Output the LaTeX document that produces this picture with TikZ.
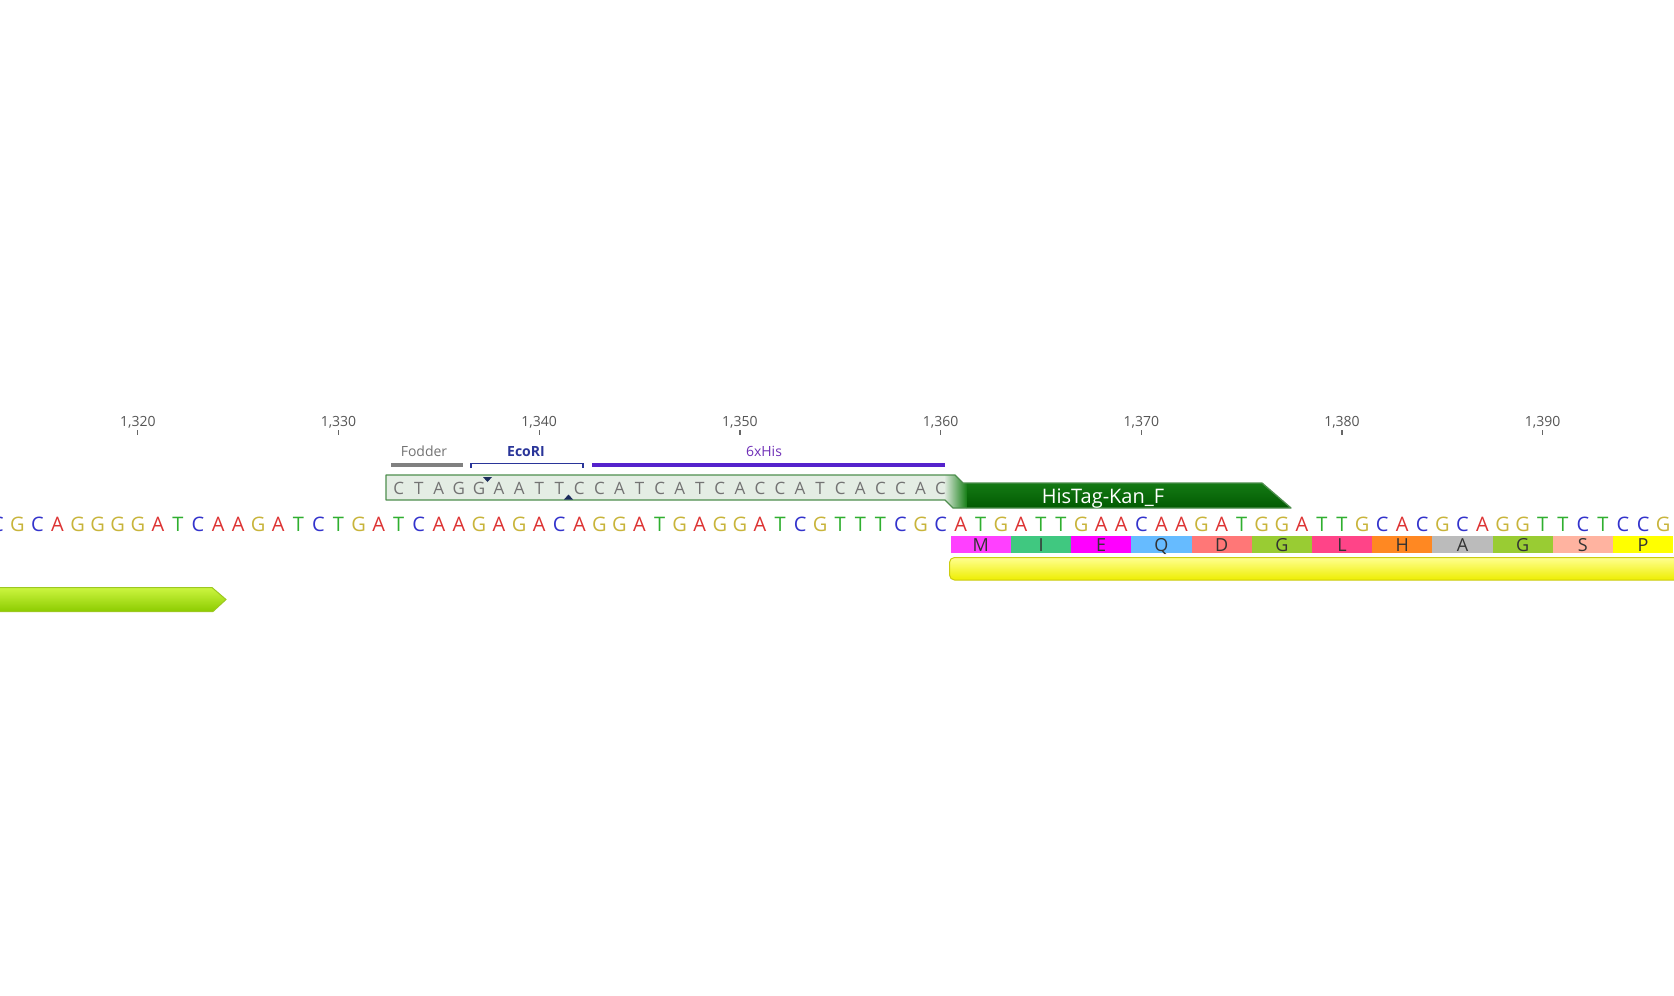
\documentclass[tikz,border=0pt]{standalone}
\usepackage{fontspec}
\setmainfont{Open Sans}
\definecolor{nucA}{HTML}{DD3333}
\definecolor{nucC}{HTML}{3333CC}
\definecolor{nucG}{HTML}{C8B43A}
\definecolor{nucT}{HTML}{2FAF2F}
\definecolor{aaM}{HTML}{FF40FF}
\definecolor{aaI}{HTML}{40C880}
\definecolor{aaE}{HTML}{FF00FF}
\definecolor{aaQ}{HTML}{66BBFF}
\definecolor{aaD}{HTML}{FF7777}
\definecolor{aaG}{HTML}{99CC33}
\definecolor{aaL}{HTML}{FF4488}
\definecolor{aaH}{HTML}{FF8822}
\definecolor{aaA}{HTML}{BBBBBB}
\definecolor{aaS}{HTML}{FFB3A0}
\definecolor{aaP}{HTML}{FFFF00}
\definecolor{ticktext}{HTML}{555555}
\definecolor{fodder}{HTML}{808080}
\definecolor{ecori}{HTML}{2A3599}
\definecolor{hisbar}{HTML}{5522CC}
\definecolor{histext}{HTML}{7030B8}
\definecolor{cutmark}{HTML}{1C2C5C}
\definecolor{primerlight}{HTML}{E4EDE4}
\definecolor{primerline}{HTML}{4E8E4E}
\definecolor{primertop}{HTML}{1E8A1E}
\definecolor{primerbot}{HTML}{005800}
\definecolor{limetop}{HTML}{CCF540}
\definecolor{limebot}{HTML}{8CCC00}
\definecolor{limeline}{HTML}{9CC820}
\definecolor{yeltop}{HTML}{FFFF90}
\definecolor{yelbot}{HTML}{EEEE00}
\definecolor{yelline}{HTML}{CCCC10}
\begin{document}
\begin{tikzpicture}[x=1pt,y=-1pt,
  nuc/.style={font=\fontsize{20}{20}\selectfont, inner sep=0pt, anchor=base},
  ovh/.style={font=\fontsize{17}{17}\selectfont, inner sep=0pt, anchor=base, text=black!55},
  aa/.style={font=\fontsize{18}{18}\selectfont, inner sep=0pt, anchor=base, text=black!80},
  ticklab/.style={font=\fontsize{14}{14}\selectfont, inner sep=0pt, anchor=base, text=ticktext},
  featlab/.style={font=\fontsize{14}{14}\selectfont, inner sep=0pt, anchor=base},
  tickmark/.style={draw=black!60, line width=1.2pt},
]
\useasboundingbox (0,0) rectangle (1674,996);
\fill[white] (0,0) rectangle (1674,996);
\begin{scope}
\clip (0,0) rectangle (1674,996);

% ruler
\foreach \n/\lab in {1320/{1,320},1330/{1,330},1340/{1,340},1350/{1,350},1360/{1,360},1370/{1,370},1380/{1,380},1390/{1,390}}{
  \node[ticklab] (t\n) at ({940.6+20.07*(\n-1360)},426.7) {\lab};
  \draw[tickmark] ({940.6+20.07*(\n-1360)},430) -- ({940.6+20.07*(\n-1360)},434.5);
}

% features
\node[featlab, text=black!55] (fodderlab) at (424,456.7) {Fodder};
\draw[fodder, line width=4pt] (391,465) -- (463,465);
\node[featlab, text=ecori, font=\fontsize{14}{14}\selectfont\bfseries] (ecolab) at (526,456.7) {EcoRI};
\draw[ecori, line width=1.4pt] (471,468) -- (471,463.5) -- (583,463.5) -- (583,468);
\node[featlab, text=histext] (hislab) at (764,456.7) {6xHis};
\draw[hisbar, line width=4pt] (592,465) -- (945,465);

% primer
\begin{scope}
\clip (386,475) -- (955,475) -- (963,483) -- (1262,483) -- (1291,508) -- (953,508) -- (945,500) -- (386,500) -- cycle;
\fill[primerlight] (380,470) rectangle (1300,510);
\shade[top color=primertop, bottom color=primerbot] (966,470) rectangle (1300,510);
\shade[left color=primerlight, right color=primertop!80!primerbot] (944,470) rectangle (966.5,510);
\end{scope}
\draw[primerline, line width=1.3pt, line join=round] (386,475) -- (955,475) -- (963,483) -- (1262,483) -- (1291,508) -- (953,508) -- (945,500) -- (386,500) -- cycle;
\foreach \b [count=\i from 1333] in {C,T,A,G,G,A,A,T,T,C,C,A,T,C,A,T,C,A,C,C,A,T,C,A,C,C,A,C}
  \node[ovh] (o\i) at ({940.6+20.07*(\i-1360)},494) {\b};
\node[font=\fontsize{20}{20}\selectfont, inner sep=0pt, anchor=base, text=white] (primerlab) at (1103,503.5) {HisTag-Kan\_F};
% cut markers
\fill[cutmark] (483,477) -- (492,477) -- (487.5,482) -- cycle;
\fill[cutmark] (564,499.5) -- (573,499.5) -- (568.5,494.5) -- cycle;

% sequence
\foreach \b [count=\i from 1313] in {C,G,C,A,G,G,G,G,A,T,C,A,A,G,A,T,C,T,G,A,T,C,A,A,G,A,G,A,C,A,G,G,A,T,G,A,G,G,A,T,C,G,T,T,T,C,G,C,A,T,G,A,T,T,G,A,A,C,A,A,G,A,T,G,G,A,T,T,G,C,A,C,G,C,A,G,G,T,T,C,T,C,C,G}
  \node[nuc, text=nuc\b] (s\i) at ({940.6+20.07*(\i-1360)},531) {\b};

% translation
\foreach \a/\c [count=\k from 0] in {M/aaM,I/aaI,E/aaE,Q/aaQ,D/aaD,G/aaG,L/aaL,H/aaH,A/aaA,G/aaG,S/aaS,P/aaP}{
  \fill[\c] ({950.7+60.21*\k},535.5) rectangle ({950.7+60.21*(\k+1)},553);
  \node[aa] (aa\k) at ({950.7+60.21*\k+30.1},551.5) {\a};
}

% yellow CDS bar
\shade[top color=yeltop, bottom color=yelbot, draw=yelline, line width=1pt, rounded corners=5pt] (949.5,557.5) rectangle (1700,580);

% lime feature arrow
\shade[top color=limetop, bottom color=limebot, draw=limeline, line width=1pt] (-10,587.5) -- (212,587.5) -- (226,599.5) -- (213,611.5) -- (-10,611.5) -- cycle;

\end{scope}
\end{tikzpicture}
\end{document}
